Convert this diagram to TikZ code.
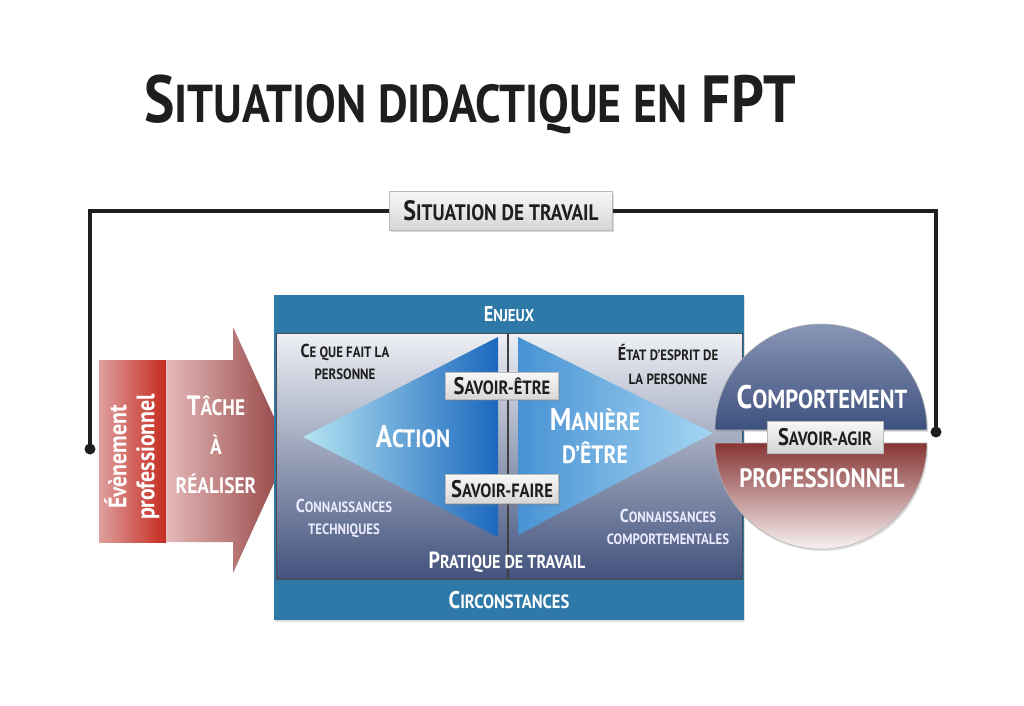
\documentclass[tikz,border=0pt]{standalone}
\usepackage{fontspec}
\usepackage{graphicx}
\setmainfont{PT Sans}[FakeStretch=0.86]
\usetikzlibrary{shadows}
\newcommand\smc[1]{\scalebox{0.8}{#1}}
\newcommand\fs[2]{\fontsize{#1}{#2}\selectfont\bfseries}
\definecolor{bande}{RGB}{47,121,169}
\definecolor{fondhaut}{RGB}{238,240,245}
\definecolor{fondbas}{RGB}{66,82,124}
\definecolor{actg}{RGB}{180,228,242}
\definecolor{actd}{RGB}{28,104,190}
\definecolor{manig}{RGB}{72,146,212}
\definecolor{manid}{RGB}{165,214,242}
\definecolor{comph}{RGB}{136,150,182}
\definecolor{compb}{RGB}{62,80,126}
\definecolor{profh}{RGB}{135,52,52}
\definecolor{profb}{RGB}{248,242,242}
\definecolor{evg}{RGB}{222,160,158}
\definecolor{evd}{RGB}{198,42,30}
\definecolor{tacg}{RGB}{228,184,184}
\definecolor{tacd}{RGB}{146,64,64}
\definecolor{encre}{RGB}{30,30,30}
\begin{document}
\begin{tikzpicture}[x=0.75pt,y=-0.75pt,
  lbl/.style={align=center, inner sep=0pt},
  btn/.style={draw=gray!55, top color=gray!6, bottom color=gray!32, inner sep=0pt, text=encre,
    drop shadow={opacity=0.3, shadow xshift=1pt, shadow yshift=-1.5pt}},
  wire/.style={line width=3pt, encre}]
\useasboundingbox (0,0) rectangle (1024,706);
\fill[white] (0,0) rectangle (1024,706);
% titre
\node[lbl, anchor=base, text=encre, font=\fs{50}{58}] (titre) at (470,123) {S\smc{ITUATION DIDACTIQUE EN} FPT};
% situation de travail et ses liens
\node[btn, minimum width=167pt, minimum height=29pt, font=\fs{21}{24}] (st) at (501,211) {S\smc{ITUATION DE TRAVAIL}};
\coordinate (gauche) at (90,449);
\coordinate (droite) at (936,432);
\draw[wire] (st.west) -| (gauche);
\draw[wire] (st.east) -| (droite);
\fill[encre] (gauche) circle[radius=5.5];
\fill[encre] (droite) circle[radius=5.5];
% evenement et tache
\path[left color=evg, right color=evd, drop shadow={opacity=0.25, shadow xshift=1pt, shadow yshift=-1pt}] (99,360) rectangle (166,542);
\node[lbl, rotate=90, text=white, font=\fs{19}{21}] (evt) at (132,457) {Évènement\\professionnel};
\path[left color=tacg, right color=tacd] (167,360) -- (233,360) -- (233,327) -- (289,450) -- (233,573) -- (233,542) -- (167,542) -- cycle;
\node[lbl, text=white, font=\fs{21}{29}] (tache) at (216,445) {T\smc{ÂCHE}\\\smc{À}\\\smc{RÉALISER}};
% cadre central
\fill[bande, drop shadow={opacity=0.25, shadow xshift=1pt, shadow yshift=-1.5pt}] (274,295) rectangle (744,620);
\draw[gray!60!black, thin, top color=fondhaut, bottom color=fondbas] (276,333) rectangle (742,579);
\draw[gray!50!black, line width=0.8pt] (508,333) -- (508,579);
\path[left color=actg, right color=actd] (303,437) -- (498,337) -- (498,537) -- cycle;
\path[left color=manig, right color=manid] (518,337) -- (713,433) -- (518,535) -- cycle;
\node[lbl, text=white, font=\fs{16}{18}] (enjeux) at (509,314) {E\smc{NJEUX}};
\node[lbl, text=white, font=\fs{18}{20}] (circ) at (509,600) {C\smc{IRCONSTANCES}};
\node[lbl, text=encre, font=\fs{14}{17}] (fait) at (345,362) {C\smc{E QUE FAIT LA}\\\smc{PERSONNE}};
\node[lbl, text=encre, font=\fs{14}{18}] (esprit) at (668,364) {É\smc{TAT D’ESPRIT DE}\\\smc{LA PERSONNE}};
\node[lbl, text=white!92!blue, font=\fs{14}{16.5}] (tech) at (344,518) {C\smc{ONNAISSANCES}\\\smc{TECHNIQUES}};
\node[lbl, text=white!92!blue, font=\fs{14}{16.5}] (compt) at (668,527) {C\smc{ONNAISSANCES}\\\smc{COMPORTEMENTALES}};
\node[lbl, text=white, font=\fs{17.5}{20}] (pratique) at (507,562) {P\smc{RATIQUE DE TRAVAIL}};
\node[lbl, text=white, font=\fs{23.5}{26}] (action) at (413,437) {A\smc{CTION}};
\node[lbl, text=white, font=\fs{23.5}{25}] (maniere) at (595,436) {M\smc{ANIÈRE}\\\smc{D’ÊTRE}};
\node[btn, minimum width=85pt, minimum height=20pt, font=\fs{18}{20}] (etre) at (502,386) {S\smc{AVOIR-ÊTRE}};
\node[btn, minimum width=85pt, minimum height=22pt, font=\fs{18}{20}] (faire) at (502,489) {S\smc{AVOIR-FAIRE}};
% comportement professionnel
\draw[gray!60, top color=comph, bottom color=compb, drop shadow={opacity=0.25, shadow xshift=1pt, shadow yshift=-1.5pt}] (715,430) arc[start angle=180, end angle=0, radius=79.5pt] -- cycle;
\draw[gray!60, top color=profh, bottom color=profb, drop shadow={opacity=0.25, shadow xshift=1pt, shadow yshift=-1.5pt}] (715,443) arc[start angle=180, end angle=360, radius=79.5pt] -- cycle;
\node[lbl, text=white, font=\fs{24.5}{27}] (comp) at (822,397) {C\smc{OMPORTEMENT}};
\node[lbl, text=white, font=\fs{25}{27}] (prof) at (822,478) {\smc{PROFESSIONNEL}};
\node[btn, minimum width=87pt, minimum height=24pt, font=\fs{18}{20}] (agir) at (825,437) {S\smc{AVOIR-AGIR}};
\end{tikzpicture}
\end{document}
